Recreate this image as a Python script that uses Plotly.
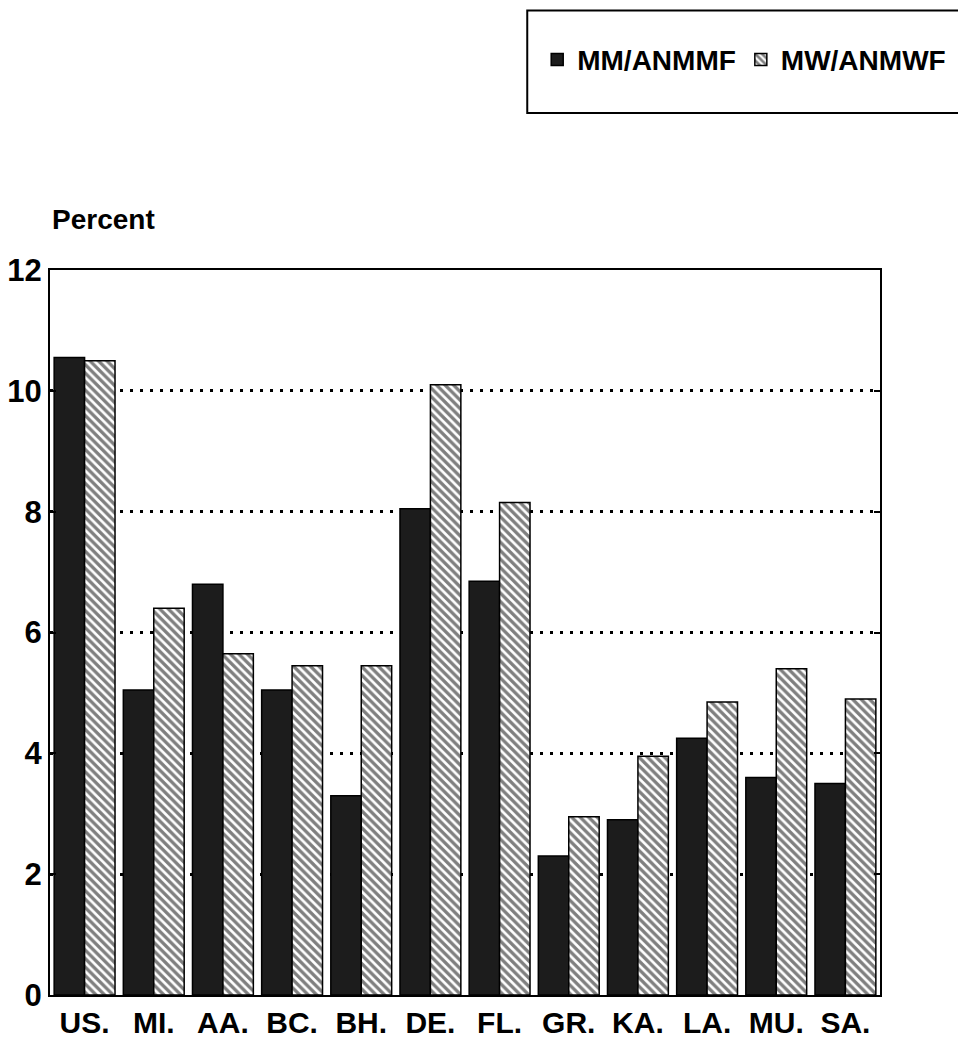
"""Grouped bar chart: MM/ANMMF vs MW/ANMWF percentages by site."""

import plotly.graph_objects as go

# Dades llegides del gràfic
categories = ["US.", "MI.", "AA.", "BC.", "BH.", "DE.", "FL.", "GR.", "KA.", "LA.", "MU.", "SA."]
mm_anmmf = [10.55, 5.05, 6.8, 5.05, 3.3, 8.05, 6.85, 2.3, 2.9, 4.25, 3.6, 3.5]
mw_anmwf = [10.5, 6.4, 5.65, 5.45, 5.45, 10.1, 8.15, 2.95, 3.95, 4.85, 5.4, 4.9]
y_ticks = [0, 2, 4, 6, 8, 10, 12]

FONT = "Liberation Sans, Arial, sans-serif"

fig = go.Figure()
fig.add_trace(go.Bar(
    x=categories, y=mm_anmmf, name="MM/ANMMF",
    marker=dict(color="#1c1c1c", line=dict(color="black", width=1.5)),
))
fig.add_trace(go.Bar(
    x=categories, y=mw_anmwf, name="MW/ANMWF",
    marker=dict(
        color="white",
        line=dict(color="black", width=1.5),
        pattern=dict(shape="\\", fgcolor="black", bgcolor="white", size=6, solidity=0.55),
    ),
))

# Caixa de la llegenda
fig.add_shape(
    type="rect", xref="paper", yref="paper",
    x0=0.575, x1=1.108, y0=1.2166, y1=1.358,
    line=dict(color="black", width=2), fillcolor="rgba(0,0,0,0)",
)

fig.add_annotation(
    text="Percent", xref="paper", yref="paper", x=0.0, y=1.045,
    xanchor="left", yanchor="bottom", showarrow=False,
    font=dict(family=FONT, size=28, color="black", weight="bold"),
)

# El navegador afegeix 8 px de marge al body: es compensa als marges
fig.update_layout(
    width=966, height=1057,
    paper_bgcolor="white", plot_bgcolor="white",
    margin=dict(l=42, r=94, t=262, b=70),
    barmode="group", bargap=0.12, bargroupgap=0.0,
    font=dict(family=FONT, size=28, color="black", weight="bold"),
    legend=dict(
        orientation="h", x=0.587, y=1.29, xanchor="left", yanchor="middle",
        bgcolor="rgba(0,0,0,0)", font=dict(size=28), itemwidth=30,
        traceorder="normal",
    ),
)
fig.update_xaxes(
    showline=True, linecolor="black", linewidth=2, mirror=True,
    ticks="", showgrid=False, automargin=False,
    tickfont=dict(size=30),
)
fig.update_yaxes(
    range=[0, 12], tickvals=y_ticks, automargin=False,
    showline=True, linecolor="black", linewidth=2, mirror="ticks",
    ticks="inside", ticklen=6, tickcolor="black", tickwidth=1.5,
    showgrid=True, gridcolor="black", gridwidth=2.5, griddash="3px,7px",
    zeroline=False, tickfont=dict(size=31),
)

fig.write_html("out.html")
